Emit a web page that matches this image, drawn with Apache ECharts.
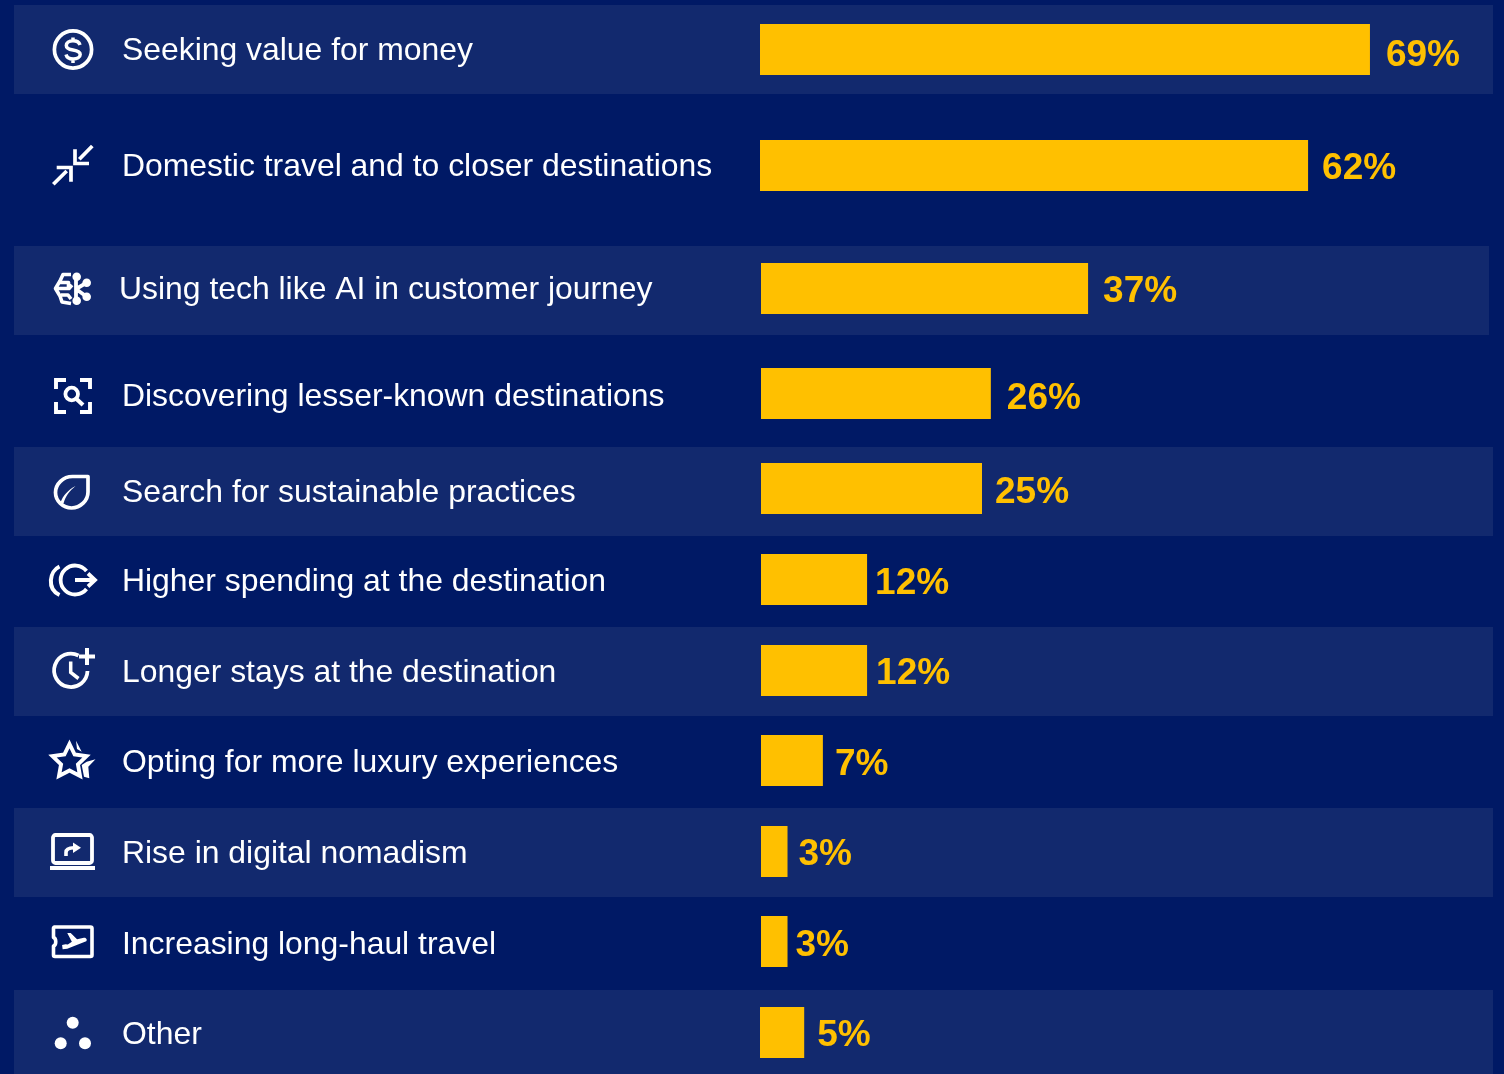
<!DOCTYPE html>
<html><head><meta charset="utf-8">
<style>html,body{margin:0;padding:0;background:#001965}#c{width:1504px;height:1074px}</style>
<script src="https://cdn.jsdelivr.net/npm/echarts@6/dist/echarts.min.js"></script></head>
<body><div id="c"></div>
<script>
// --- data ---
const categories = ['Seeking value for money','Domestic travel and to closer destinations','Using tech like AI in customer journey','Discovering lesser-known destinations','Search for sustainable practices','Higher spending at the destination','Longer stays at the destination','Opting for more luxury experiences','Rise in digital nomadism','Increasing long-haul travel','Other'];
const shares = [69,62,37,26,25,12,12,7,3,3,5];

// --- layout (rows in the source are hand placed, so each has its own small grid) ---
const rowCentres = [49.5,165.5,288.5,393.5,488.5,579.5,670.5,760.5,851.5,941.5,1032.5];
const barLefts   = [760,760,761,761,761,761,761,761,761,761,760];
const textLefts  = [122,122,119,122,122,122,122,122,122,122,122];
const textDrops  = [2,2,2,3.5,4.5,3,3,3,3,4,3];
const labelGaps  = [16,14,15,16,13,8,9,12,11,8,13];
const labelDrops = [6.5,3,3,5,4,4,3,4,3,4,3];
const bands = [[14,5,1479,89],[14,246,1475,89],[14,447,1479,89],[14,627,1479,89],[14,808,1479,89],[14,990,1479,84]];
const BAR_H = 51, PX_PER_PCT = 8.84, AXIS_MAX = 80;
const BG = '#001965', BAND = '#12296E', GOLD = '#FFC000', FONT = '"Liberation Sans", Arial, sans-serif';

const W = 'fill="none" stroke="#fff" stroke-linejoin="round"';
const icons = [
 `<circle cx="73" cy="49.5" r="18.6" ${W} stroke-width="3.7"/><path d="M80 45 C79 41.5 76 40.8 73 40.8 C69 40.8 66.3 43 66.3 45.5 C66.3 48.5 69.5 49.5 73 50 C77 50.6 80.2 51.6 80.2 54.6 C80.2 57.3 77 59 73.2 59 C69.5 59 66.8 57.5 66 54.5 M73 37.5V41 M73 59V63" ${W} stroke-width="3.5"/>`,
 `<path d="M75 149.3V163.5H89 M92.3 146L79.3 159.3 M56.7 167.5H71V181.7 M53.3 184.3L66.7 171" fill="none" stroke="#fff" stroke-width="3.7"/>`,
 `<g fill="#fff"><circle cx="76.7" cy="276.7" r="4.3"/><circle cx="86.7" cy="282.7" r="4.3"/><circle cx="86.7" cy="296.7" r="4.3"/><circle cx="76.7" cy="300.7" r="4.3"/></g><path d="M76 277V301 M76 289L86.7 282.7 M76 289L86.7 296.7" fill="none" stroke="#fff" stroke-width="3.8"/><path d="M71 274.5H63L60 281L55.5 288.5L60 296L62 302L71 303.5 M60 282.5H68.5V289 M56 288.5H69L72 285 M61 295H68L71 299" ${W} stroke-width="3.6"/>`,
 `<path d="M66 380H56V389 M80 380H90V389 M56 402V412H66 M90 402V412H80" fill="none" stroke="#fff" stroke-width="3.9"/><circle cx="71.7" cy="394" r="6.3" ${W} stroke-width="3.8"/><path d="M76.5 399L83 405" stroke="#fff" stroke-width="4.2"/>`,
 `<path d="M88 476.5H72.5C63 476.5 55.5 484 55.5 492.5C55.5 501 63 508 71.5 508C80.5 508 88 500.5 88 492Z" ${W} stroke-width="3.7"/><path d="M75.5 486C68 490 63 495.5 60.5 502.5L63.5 503.5C65.5 496 69.5 491 75.5 486Z" fill="#fff"/>`,
 `<path d="M59.5 566.5C49.5 571 46.5 589 59.5 595" fill="none" stroke="#fff" stroke-width="4"/><path d="M86.5 571A14.5 14.5 0 1 0 86.5 589" fill="none" stroke="#fff" stroke-width="3.8"/><path d="M75 580H93 M88 573.5L95 580L88 586.5" fill="none" stroke="#fff" stroke-width="3.8"/>`,
 `<path d="M78.5 655.5A16.7 16.7 0 1 0 87.5 671" fill="none" stroke="#fff" stroke-width="3.8"/><path d="M70.7 661.5V672.5L78.5 678.5" fill="none" stroke="#fff" stroke-width="3.5"/><path d="M79 656.5H95 M87 648V665" stroke="#fff" stroke-width="4"/>`,
 `<path transform="translate(69.5 761) scale(1.03) translate(-69.5 -761)" d="M69.5 744.5L74.5 754.7L86 756.3L77.7 764.3L79.7 775.5L69.5 770.2L59.3 775.5L61.3 764.3L53 756.3L64.5 754.7Z" fill="none" stroke="#fff" stroke-width="3.8" stroke-linejoin="miter"/><path d="M76 740.7L81.7 751.7L77 749Z M95.5 759.3L88.3 766.7L89.3 778.3L84 776.7L81.7 765L86.7 761.7Z" fill="#fff"/>`,
 `<rect x="53" y="835" width="39" height="28" rx="2.5" ${W} stroke-width="3.8"/><path d="M50 868H95" stroke="#fff" stroke-width="4.2"/><path d="M66 856V852.5C66 849 69 847.8 74 847.8" fill="none" stroke="#fff" stroke-width="3.6"/><path d="M73 842.5L81 847.8L73 853Z" fill="#fff"/>`,
 `<path d="M54.5 927H90.5A1.5 1.5 0 0 1 92 928.5V955A1.5 1.5 0 0 1 90.5 956.5H55A1.5 1.5 0 0 1 53.5 955V946C56.5 945 56.5 938.5 53.5 937.5V928A1.5 1.5 0 0 1 54.5 927Z" ${W} stroke-width="3.6"/><path transform="translate(73 941.5) scale(1.15) translate(-73 -941.5)" d="M68 934.2L71 934L76.5 939.5L82.5 938.2C85 938 85.5 940.5 84.5 941.2L68 947.8L64 948.2L63.5 944.5L66.5 943.8L68.5 944L72 941.8Z" fill="#fff"/>`,
 `<g fill="#fff"><circle cx="72.7" cy="1022.7" r="6"/><circle cx="60.7" cy="1043.3" r="6"/><circle cx="85" cy="1043.3" r="6"/></g>`
];
const iconCentres = [49.5,165.5,288.5,394.5,491.5,580,671,760,851,941.5,1033];

const grids = [], xAxes = [], yAxes = [], series = [];
categories.forEach((name, i) => {
  grids.push({left: barLefts[i], top: rowCentres[i] - BAR_H / 2, height: BAR_H, width: AXIS_MAX * PX_PER_PCT, containLabel: false});
  xAxes.push({gridIndex: i, type: 'value', min: 0, max: AXIS_MAX, show: false});
  yAxes.push({gridIndex: i, type: 'category', data: [name], axisLine: {show: false}, axisTick: {show: false}, splitLine: {show: false},
    axisLabel: {color: '#fff', fontFamily: FONT, fontSize: 31.9, align: 'left', verticalAlign: 'top', lineHeight: textDrops[i] * 2, margin: barLefts[i] - textLefts[i], interval: 0, hideOverlap: false}});
  series.push({type: 'bar', xAxisIndex: i, yAxisIndex: i, data: [shares[i]], barWidth: BAR_H, silent: true, animation: false,
    itemStyle: {color: GOLD},
    label: {show: true, position: 'right', distance: labelGaps[i], offset: [0, labelDrops[i]], formatter: '{c}%', color: GOLD, fontFamily: FONT, fontSize: 37, fontWeight: 'bold'}});
});

const graphic = bands.map(([x, y, w, h]) => ({type: 'rect', z: -10, silent: true, shape: {x, y, width: w, height: h}, style: {fill: BAND}}));
icons.forEach((body, i) => {
  const top = iconCentres[i] - 35;
  const svg = `<svg xmlns="http://www.w3.org/2000/svg" width="70" height="70" viewBox="40 ${top} 70 70">${body}</svg>`;
  graphic.push({type: 'image', z: 5, silent: true, x: 40, y: top, style: {image: 'data:image/svg+xml;charset=utf-8,' + encodeURIComponent(svg), width: 70, height: 70}});
});

const chart = echarts.init(document.getElementById('c'), null, {renderer: 'canvas', width: 1504, height: 1074});
chart.setOption({animation: false, backgroundColor: BG, grid: grids, xAxis: xAxes, yAxis: yAxes, series, graphic});
</script></body></html>
